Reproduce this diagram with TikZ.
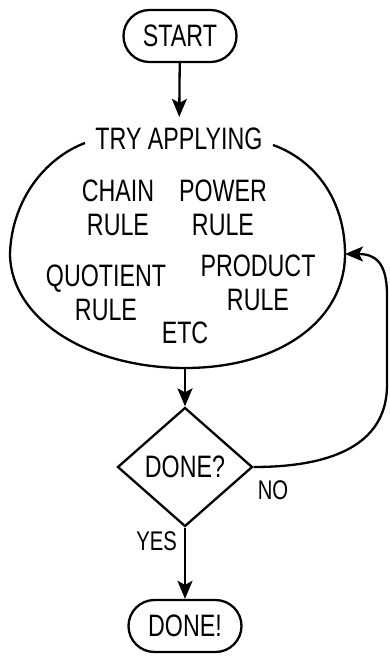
\documentclass[tikz,border=0pt]{standalone}
\usepackage{fontspec}
\setmainfont[FakeStretch=0.75]{Liberation Sans}
\usetikzlibrary{shapes.geometric,shapes.misc,arrows.meta}
\begin{document}
\begin{tikzpicture}[x=1pt,y=1pt,line width=2.3pt,
  txt/.style={font=\fontsize{31}{34}\selectfont, align=center, inner sep=0pt},
  term/.style={draw, rounded rectangle, minimum width=113pt, minimum height=52pt, inner sep=0pt, font=\fontsize{31}{34}\selectfont},
  decide/.style={draw, diamond, minimum width=135pt, minimum height=119pt, inner sep=0pt, font=\fontsize{31}{34}\selectfont},
  lbl/.style={font=\fontsize{27}{30}\selectfont, inner sep=0pt},
  arr/.style={-{Stealth[length=18pt,width=15pt,inset=4pt]}}]
\useasboundingbox (0,0) rectangle (389,-657);

\node[term] (start) at (180,-36) {START};
\node[txt, inner ysep=10pt] (try) at (179,-139) {TRY APPLYING};
\draw[arr] (start) -- (try);

% the blob
\draw (85,-143) .. controls (45,-158) and (12,-200) .. (10,-253)
  .. controls (10,-320) and (90,-368) .. (185,-368) coordinate (blobS)
  .. controls (280,-368) and (345,-320) .. (345,-254) coordinate (blobE)
  .. controls (345,-200) and (315,-160) .. (273,-145);

\node[txt] (chain) at (118,-208) {CHAIN\\RULE};
\node[txt] (power) at (223,-208) {POWER\\RULE};
\node[txt] (quot) at (106,-293) {QUOTIENT\\RULE};
\node[txt] (prod) at (258,-283) {PRODUCT\\RULE};
\node[txt] (etc) at (185,-333) {ETC};

\node[decide] (done) at (185,-467) {DONE?};
\draw[arr] (blobS) -- (done);

\node[term] (end) at (185,-626) {DONE!};
\draw[arr] (done) -- (end) node[lbl, anchor=east, pos=0.19, xshift=-7pt] (yes) {YES};

\node[lbl, anchor=north west] (no) at ([shift={(3pt,-12pt)}]done.east) {NO};
\draw[arr] (done.east) .. controls (340,-467) and (387,-440) .. (387,-385)
  -- (387,-295) .. controls (387,-262) and (375,-254) .. (blobE);
\end{tikzpicture}
\end{document}
